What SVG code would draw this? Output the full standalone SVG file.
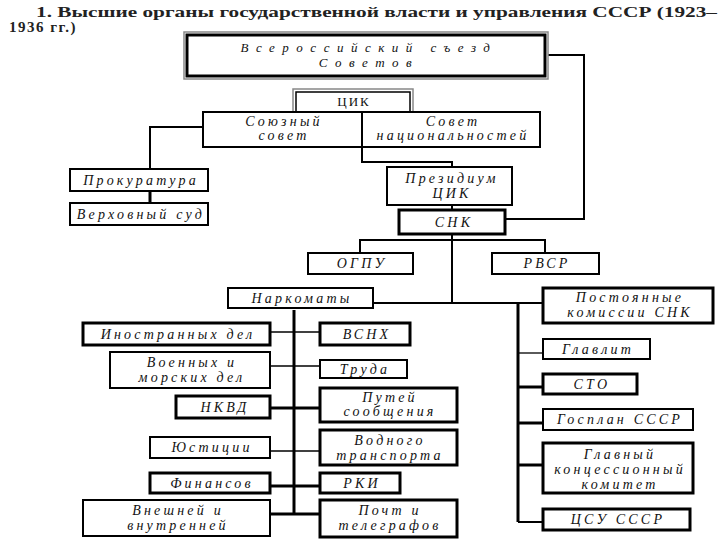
<svg xmlns="http://www.w3.org/2000/svg" width="720" height="540" viewBox="0 0 720 540">
<style>
.b{fill:#fff;stroke:#000;stroke-width:2}
.k{fill:#fff;stroke:#000;stroke-width:3}
.t{font-family:"Liberation Serif",serif;font-style:italic;font-size:14px;letter-spacing:3.2px;text-anchor:middle;fill:#111}
.u{font-family:"Liberation Serif",serif;font-size:13px;text-anchor:middle;fill:#111;letter-spacing:2px}
.c{fill:none;stroke:#000;stroke-width:2}
.c1{fill:none;stroke:#000;stroke-width:1.3}
.c3{fill:none;stroke:#000;stroke-width:3}
.h{font-family:"Liberation Serif",serif;font-weight:bold;font-size:15px;fill:#222}
</style>
<rect width="720" height="540" fill="#fff"/>
<text class="h" x="36" y="17" textLength="681" lengthAdjust="spacingAndGlyphs">1. Высшие органы государственной власти и управления СССР (1923–</text>
<text class="h" x="9" y="32" style="letter-spacing:1.5px">1936 гг.)</text>

<g id="connectors">
<polyline class="c" points="547,55 584,55 584,219 505,219"/>
<polyline class="c" points="362,147 362,162 452,162 452,167"/>
<polyline class="c" points="203,127 150,127 150,169"/>
<line class="c3" x1="150" y1="192" x2="150" y2="203"/>
<line class="c" x1="452" y1="205" x2="452" y2="210"/>
<line class="c" x1="452" y1="234" x2="452" y2="303"/>
<polyline class="c" points="360,253 360,240 545,240 545,253"/>
<line class="c" x1="373" y1="303" x2="543" y2="303"/>
<line class="c3" x1="518" y1="303" x2="518" y2="522"/>
<line class="c3" x1="294" y1="310" x2="294" y2="514"/>
<line class="c1" x1="270" y1="332" x2="320" y2="332"/>
<line class="c1" x1="270" y1="366" x2="320" y2="366"/>
<line class="c3" x1="270" y1="408" x2="320" y2="408"/>
<line class="c1" x1="270" y1="451" x2="320" y2="451"/>
<line class="c3" x1="270" y1="486" x2="320" y2="486"/>
<line class="c3" x1="270" y1="514" x2="320" y2="514"/>
<line class="c1" x1="518" y1="353" x2="543" y2="353"/>
<line class="c3" x1="518" y1="387" x2="543" y2="387"/>
<line class="c3" x1="518" y1="423" x2="543" y2="423"/>
<line class="c3" x1="518" y1="465" x2="543" y2="465"/>
<line class="c" x1="518" y1="522" x2="543" y2="522"/>
</g>

<g id="congress">
<rect x="184" y="32" width="364" height="47" fill="#fff" stroke="#888" stroke-width="1.5"/>
<rect x="187" y="35" width="358" height="41" fill="#fff" stroke="#000" stroke-width="3"/>
<text class="t" x="369" y="52" style="letter-spacing:7.5px;font-size:13px">Всероссийский съезд</text>
<text class="t" x="369" y="67" style="letter-spacing:7.5px;font-size:13px">Советов</text>
</g>
<g id="cik">
<rect x="293" y="89" width="120" height="23" fill="#fff" stroke="#888" stroke-width="1.5"/>
<rect x="296" y="92" width="114" height="20" fill="#fff" stroke="#000" stroke-width="1.5"/>
<text class="u" x="354" y="106">ЦИК</text>
</g>
<g id="soyuzny">
<rect class="b" x="203" y="112" width="159" height="35"/>
<text class="t" x="284" y="126">Союзный</text>
<text class="t" x="284" y="140">совет</text>
</g>
<g id="natsionalnostei">
<rect class="b" x="362" y="112" width="178" height="35"/>
<text class="t" x="453" y="126">Совет</text>
<text class="t" x="453" y="140">национальностей</text>
</g>
<g id="prokuratura">
<rect class="b" x="70" y="169" width="138" height="22"/>
<text class="t" x="141" y="185">Прокуратура</text>
</g>
<g id="verkhsud">
<rect class="b" x="70" y="203" width="138" height="22"/>
<text class="t" x="141" y="219">Верховный суд</text>
</g>
<g id="prezidium">
<rect class="b" x="387" y="167" width="125" height="38"/>
<text class="t" x="452" y="183">Президиум</text>
<text class="t" x="452" y="198">ЦИК</text>
</g>
<g id="snk">
<rect class="k" x="399" y="210" width="106" height="24"/>
<text class="t" x="454" y="227">СНК</text>
</g>
<g id="ogpu">
<rect class="b" x="308" y="253" width="105" height="21"/>
<text class="t" x="362" y="268">ОГПУ</text>
</g>
<g id="rvsr">
<rect class="b" x="492" y="253" width="107" height="21"/>
<text class="t" x="547" y="268">РВСР</text>
</g>
<g id="narkomaty">
<rect class="b" x="228" y="288" width="145" height="20"/>
<text class="t" x="302" y="303">Наркоматы</text>
</g>
<g id="inostr">
<rect class="k" x="83" y="323" width="187" height="22"/>
<text class="t" x="178" y="339">Иностранных дел</text>
</g>
<g id="voen">
<rect class="b" x="110" y="352" width="160" height="36"/>
<text class="t" x="192" y="367">Военных и</text>
<text class="t" x="192" y="382">морских дел</text>
</g>
<g id="nkvd">
<rect class="k" x="176" y="396" width="94" height="22"/>
<text class="t" x="225" y="412">НКВД</text>
</g>
<g id="yustitsii">
<rect class="b" x="150" y="437" width="120" height="21"/>
<text class="t" x="212" y="452">Юстиции</text>
</g>
<g id="finansov">
<rect class="k" x="150" y="473" width="120" height="20"/>
<text class="t" x="212" y="488">Финансов</text>
</g>
<g id="vneshnei">
<rect class="b" x="83" y="500" width="187" height="36"/>
<text class="t" x="178" y="515">Внешней и</text>
<text class="t" x="178" y="530">внутренней</text>
</g>
<g id="vsnkh">
<rect class="k" x="320" y="323" width="90" height="22"/>
<text class="t" x="367" y="339">ВСНХ</text>
</g>
<g id="truda">
<rect class="b" x="320" y="360" width="87" height="18"/>
<text class="t" x="365" y="374">Труда</text>
</g>
<g id="putei">
<rect class="k" x="320" y="388" width="137" height="34"/>
<text class="t" x="390" y="402">Путей</text>
<text class="t" x="390" y="416">сообщения</text>
</g>
<g id="vodnogo">
<rect class="k" x="320" y="430" width="137" height="35"/>
<text class="t" x="390" y="445">Водного</text>
<text class="t" x="390" y="460">транспорта</text>
</g>
<g id="rki">
<rect class="k" x="320" y="473" width="80" height="20"/>
<text class="t" x="362" y="488">РКИ</text>
</g>
<g id="pocht">
<rect class="k" x="320" y="500" width="137" height="37"/>
<text class="t" x="390" y="515">Почт и</text>
<text class="t" x="390" y="530">телеграфов</text>
</g>
<g id="postoyannye">
<rect class="k" x="543" y="288" width="170" height="35"/>
<text class="t" x="630" y="302">Постоянные</text>
<text class="t" x="630" y="317">комиссии СНК</text>
</g>
<g id="glavlit">
<rect class="b" x="543" y="339" width="107" height="20"/>
<text class="t" x="598" y="354">Главлит</text>
</g>
<g id="sto">
<rect class="k" x="543" y="374" width="94" height="20"/>
<text class="t" x="592" y="389">СТО</text>
</g>
<g id="gosplan">
<rect class="b" x="543" y="409" width="150" height="21"/>
<text class="t" x="620" y="424">Госплан СССР</text>
</g>
<g id="glavkontsesskom">
<rect class="k" x="543" y="443" width="150" height="50"/>
<text class="t" x="620" y="459">Главный</text>
<text class="t" x="620" y="474">концессионный</text>
<text class="t" x="620" y="489">комитет</text>
</g>
<g id="tsu">
<rect class="k" x="543" y="509" width="147" height="21"/>
<text class="t" x="618" y="524">ЦСУ СССР</text>
</g>
</svg>
